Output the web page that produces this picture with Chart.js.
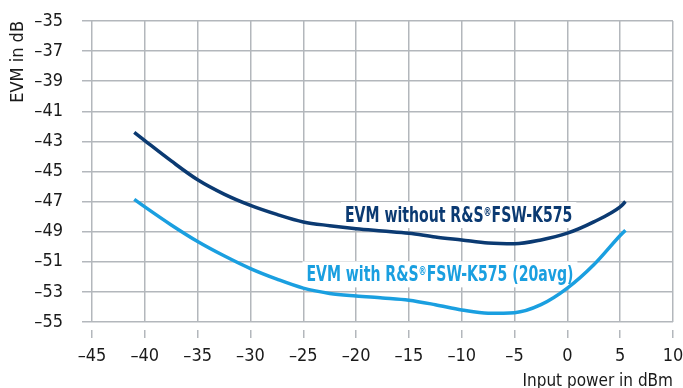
<!DOCTYPE html>
<html>
<head>
<meta charset="utf-8">
<script src="https://cdn.jsdelivr.net/npm/chart.js@4.4.1/dist/chart.umd.min.js"></script>
<style>
  html, body { margin: 0; padding: 0; background: #fff; }
  #wrap { width: 683px; height: 388px; }
</style>
</head>
<body>
<div id="wrap"><canvas id="evmChart"></canvas></div>
<script>
const FONT = '"Liberation Sans Narrow", "DejaVu Sans Condensed", "Arial Narrow", sans-serif';
const DARK = "#0b3a72";
const LIGHT = "#1a9fe0";
const GRID = "#b3b7bc";

// input power in dBm
const inputPower = [-41, -40, -37.5, -35, -32.5, -30, -27.5, -25, -22.5, -20, -17.5, -15, -12.5, -10, -7.5, -5, -2.5, 0, 2.5, 5, 5.5];
// EVM in dB
const evmWithout = [-42.4, -42.95, -44.3, -45.55, -46.5, -47.25, -47.85, -48.35, -48.6, -48.8, -48.95, -49.1, -49.35, -49.55, -49.75, -49.8, -49.55, -49.1, -48.35, -47.35, -47.0];
const evmWith = [-46.85, -47.35, -48.55, -49.65, -50.6, -51.45, -52.15, -52.75, -53.1, -53.27, -53.4, -53.55, -53.85, -54.2, -54.42, -54.38, -53.85, -52.75, -51.2, -49.25, -48.9];

// label anchors (data coords: left x, baseline y)
const notes = [
  { parts: ["EVM without R&S", "\u00ae", "FSW-K575"], x: -21.05, y: -48.36, color: DARK },
  { parts: ["EVM with R&S", "\u00ae", "FSW-K575 (20avg)"], x: -24.7, y: -52.3, color: LIGHT },
];

const dash = (v) => String(v).replace("-", "\u2013");

// the source font is a condensed face, squeeze the fallback
const SQUEEZE = 0.745;

const notesPlugin = {
  id: "notes",
  beforeDatasetsDraw(chart) {
    const { ctx, scales } = chart;
    notes.forEach((n) => {
      const x0 = scales.x.getPixelForValue(n.x);
      const base = scales.y.getPixelForValue(n.y);
      const big = "bold 21px " + FONT;
      const small = "bold 12px " + FONT;
      ctx.save();
      ctx.font = big;
      const w1 = ctx.measureText(n.parts[0]).width;
      const w3 = ctx.measureText(n.parts[2]).width;
      ctx.font = small;
      const w2 = ctx.measureText(n.parts[1]).width;
      const total = (w1 + w2 + w3) * SQUEEZE;
      ctx.fillStyle = "#fff";
      ctx.fillRect(x0 - 4, base - 20, total + 8, 26);
      ctx.translate(x0, base);
      ctx.scale(SQUEEZE, 1);
      ctx.fillStyle = n.color;
      ctx.textBaseline = "alphabetic";
      ctx.textAlign = "left";
      ctx.font = big;
      ctx.fillText(n.parts[0], 0, 0);
      ctx.font = small;
      ctx.fillText(n.parts[1], w1, -6.5);
      ctx.font = big;
      ctx.fillText(n.parts[2], w1 + w2, 0);
      ctx.restore();
    });
  },
};

const ctx = document.getElementById("evmChart");

new Chart(ctx, {
  type: "line",
  data: {
    datasets: [
      {
        label: "EVM without R&S®FSW-K575",
        data: inputPower.map((p, i) => ({ x: p, y: evmWithout[i] })),
        borderColor: DARK,
        borderWidth: 3.5,
        pointRadius: 0,
        cubicInterpolationMode: "monotone",
      },
      {
        label: "EVM with R&S®FSW-K575 (20avg)",
        data: inputPower.map((p, i) => ({ x: p, y: evmWith[i] })),
        borderColor: LIGHT,
        borderWidth: 3.5,
        pointRadius: 0,
        cubicInterpolationMode: "monotone",
      },
    ],
  },
  options: {
    responsive: true,
    maintainAspectRatio: false,
    animation: false,
    layout: { padding: { top: 21, right: 10, bottom: 0, left: 0 } },
    plugins: { legend: { display: false }, tooltip: { enabled: false } },
    scales: {
      x: {
        type: "linear",
        min: -45,
        max: 10,
        afterFit: (s) => {
          s.height = 66;
          s.paddingLeft = 0;
          s.paddingRight = 10;
        },
        border: { display: false },
        grid: {
          color: GRID,
          lineWidth: 1.5,
          tickLength: 16,
          tickBorderDash: [8, 8],
          tickBorderDashOffset: 8,
        },
        ticks: {
          stepSize: 5,
          padding: 8,
          color: "#1a1a1a",
          font: { family: FONT, size: 18 },
          callback: (v) => dash(v),
        },
        title: {
          display: true,
          text: "Input power in dBm",
          align: "end",
          color: "#1a1a1a",
          padding: 0,
          font: { family: FONT, size: 17, lineHeight: 0.7 },
        },
      },
      y: {
        min: -55,
        max: -35,
        afterFit: (s) => { s.width = 92; },
        border: { display: false },
        grid: {
          color: GRID,
          lineWidth: 1.5,
          tickLength: 19,
          tickBorderDash: [10, 9],
          tickBorderDashOffset: 10,
        },
        ticks: {
          stepSize: 2,
          padding: 10,
          color: "#1a1a1a",
          font: { family: FONT, size: 18 },
          callback: (v) => dash(v),
        },
        title: {
          display: true,
          text: "EVM in dB",
          align: "end",
          color: "#1a1a1a",
          padding: { top: 8, bottom: 0 },
          font: { family: FONT, size: 18 },
        },
      },
    },
  },
  plugins: [notesPlugin],
});
</script>
</body>
</html>
